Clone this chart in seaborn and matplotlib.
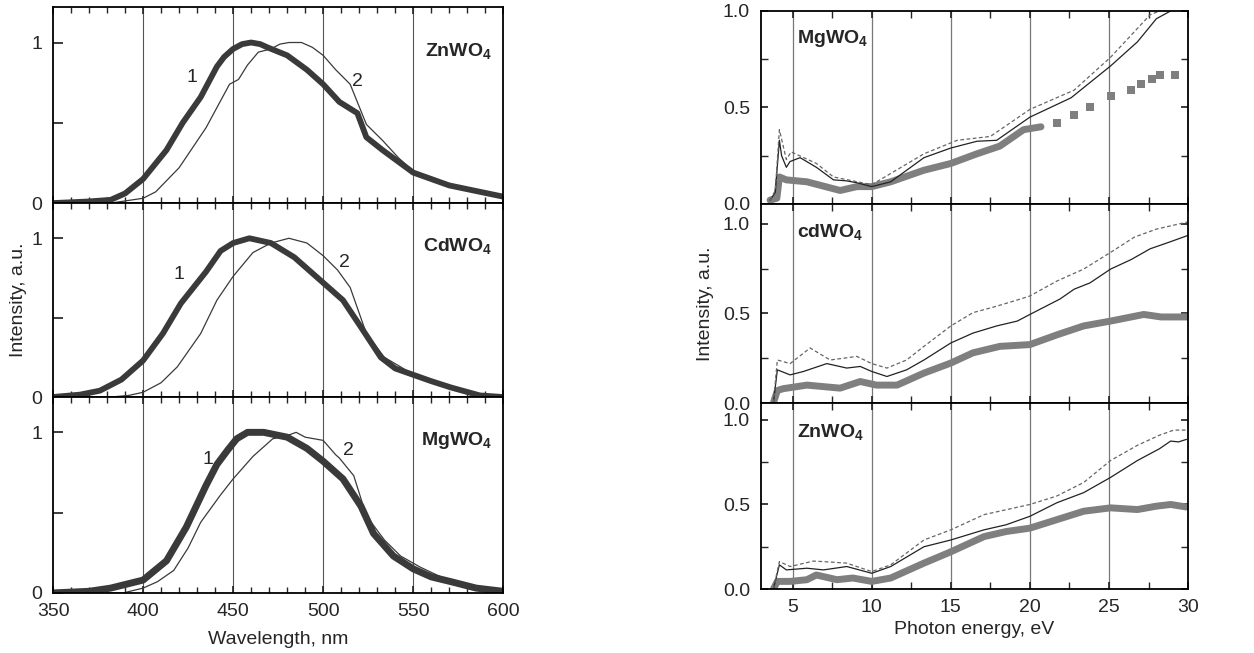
import numpy as np
import pandas as pd
import matplotlib
matplotlib.use("Agg")
import matplotlib.pyplot as plt
import seaborn as sns
from matplotlib.ticker import MultipleLocator

# ---------- left: emission spectra (wavelength, nm) ----------
zn_wl1 = [350, 370, 382, 390, 400, 413, 422, 432, 441, 445, 450, 455, 460, 465, 469, 480, 491, 500, 509, 519, 524, 533, 550, 570, 600]
zn_i1 = [0.0, 0.01, 0.02, 0.06, 0.15, 0.33, 0.50, 0.66, 0.85, 0.91, 0.96, 0.99, 1.0, 0.99, 0.97, 0.92, 0.83, 0.74, 0.63, 0.56, 0.41, 0.33, 0.19, 0.11, 0.04]
zn_wl2 = [350, 382, 400, 407, 420, 435, 448, 453, 458, 464, 471, 476, 481, 488, 494, 500, 507, 515, 524, 533, 542, 550, 570, 600]
zn_i2 = [0.0, 0.0, 0.03, 0.07, 0.22, 0.47, 0.74, 0.77, 0.86, 0.94, 0.96, 0.99, 1.0, 1.0, 0.97, 0.92, 0.83, 0.74, 0.49, 0.39, 0.28, 0.20, 0.11, 0.04]

cd_wl1 = [350, 365, 376, 388, 400, 411, 421, 428, 435, 443, 450, 459, 471, 484, 500, 511, 521, 532, 540, 550, 560, 571, 587, 600]
cd_i1 = [0.0, 0.015, 0.04, 0.11, 0.23, 0.40, 0.59, 0.69, 0.79, 0.92, 0.97, 1.0, 0.97, 0.88, 0.72, 0.61, 0.44, 0.25, 0.18, 0.14, 0.10, 0.06, 0.01, 0.0]
cd_wl2 = [350, 382, 392, 400, 410, 419, 432, 441, 450, 461, 471, 481, 491, 500, 508, 515, 524, 534, 543, 550, 560, 571, 587, 600]
cd_i2 = [0.0, 0.0, 0.01, 0.03, 0.09, 0.19, 0.40, 0.61, 0.76, 0.91, 0.97, 1.0, 0.97, 0.89, 0.80, 0.69, 0.40, 0.25, 0.19, 0.14, 0.10, 0.06, 0.01, 0.0]

mg_wl1 = [350, 370, 382, 400, 413, 424, 435, 441, 447, 452, 458, 467, 480, 491, 500, 511, 521, 528, 539, 550, 560, 571, 585, 600]
mg_i1 = [0.0, 0.01, 0.03, 0.08, 0.20, 0.41, 0.67, 0.80, 0.89, 0.96, 1.0, 1.0, 0.97, 0.90, 0.82, 0.71, 0.54, 0.37, 0.23, 0.15, 0.10, 0.07, 0.03, 0.01]
mg_wl2 = [350, 389, 400, 408, 417, 425, 432, 443, 450, 461, 472, 480, 485, 490, 495, 500, 507, 509, 517, 524, 534, 543, 554, 571, 600]
mg_i2 = [0.0, 0.0, 0.03, 0.07, 0.14, 0.28, 0.44, 0.61, 0.71, 0.85, 0.96, 0.98, 1.0, 0.97, 0.96, 0.95, 0.86, 0.84, 0.73, 0.48, 0.33, 0.23, 0.16, 0.07, 0.01]

# ---------- right: excitation spectra (photon energy, eV) ----------
mgE_solid = [3.57, 3.9, 4.16, 4.3, 4.6, 4.83, 5.47, 6.5, 7.58, 8.4, 9.06, 10.0, 11.2, 13.3, 15.0, 16.65, 17.9, 20.0, 22.6, 25.1, 26.8, 28.0, 28.9, 29.5]
mgI_solid = [0.02, 0.06, 0.33, 0.25, 0.19, 0.22, 0.24, 0.19, 0.125, 0.12, 0.11, 0.09, 0.115, 0.24, 0.29, 0.325, 0.33, 0.45, 0.55, 0.715, 0.84, 0.96, 1.0, 1.03]
mgE_dash = [3.57, 3.9, 4.16, 4.6, 4.9, 6.5, 7.58, 10.0, 13.3, 15.4, 17.5, 20.0, 22.8, 25.1, 27.6, 28.2, 29.0]
mgI_dash = [0.02, 0.07, 0.385, 0.23, 0.27, 0.21, 0.14, 0.10, 0.26, 0.33, 0.35, 0.49, 0.59, 0.76, 0.98, 1.0, 1.05]
mgE_sq = [3.57, 4.0, 4.16, 4.6, 5.9, 8.0, 9.06, 10.0, 11.2, 13.3, 15.0, 16.65, 18.1, 19.6, 20.7]
mgI_sq = [0.02, 0.03, 0.14, 0.125, 0.115, 0.07, 0.09, 0.09, 0.115, 0.175, 0.21, 0.26, 0.30, 0.385, 0.40]
mgE_tail = [21.7, 22.8, 23.8, 25.1, 26.4, 27.0, 27.7, 28.2, 29.2]
mgI_tail = [0.42, 0.46, 0.505, 0.56, 0.59, 0.62, 0.65, 0.67, 0.67]

cdE_solid = [3.78, 4.03, 4.84, 5.68, 7.16, 8.42, 9.27, 10.0, 10.96, 12.2, 13.3, 15.0, 16.4, 17.9, 19.2, 20.0, 21.9, 22.8, 23.8, 25.1, 26.4, 27.6, 28.9, 30.0]
cdI_solid = [0.0, 0.185, 0.157, 0.176, 0.22, 0.195, 0.204, 0.176, 0.148, 0.185, 0.24, 0.335, 0.39, 0.43, 0.457, 0.494, 0.58, 0.635, 0.67, 0.747, 0.80, 0.86, 0.90, 0.935]
cdE_dash = [3.78, 4.03, 4.84, 6.1, 7.37, 9.06, 10.0, 10.96, 12.2, 13.3, 15.0, 16.4, 17.9, 19.4, 20.0, 21.7, 23.4, 25.1, 26.6, 28.0, 30.0]
cdI_dash = [0.0, 0.24, 0.22, 0.307, 0.24, 0.26, 0.22, 0.195, 0.24, 0.316, 0.43, 0.504, 0.54, 0.58, 0.597, 0.68, 0.747, 0.84, 0.925, 0.97, 1.01]
cdE_sq = [3.78, 4.03, 4.4, 5.9, 8.0, 9.27, 10.3, 11.6, 13.3, 15.0, 16.4, 18.1, 20.0, 21.7, 23.4, 25.1, 27.2, 28.3, 30.0]
cdI_sq = [0.0, 0.07, 0.08, 0.10, 0.083, 0.12, 0.10, 0.10, 0.167, 0.223, 0.28, 0.316, 0.326, 0.38, 0.43, 0.457, 0.494, 0.48, 0.48]

znE_solid = [3.78, 4.16, 4.6, 5.9, 6.95, 8.42, 10.0, 11.2, 13.3, 15.0, 17.1, 18.5, 20.0, 21.7, 23.4, 25.1, 26.8, 28.2, 28.9, 29.4, 29.9]
znI_solid = [0.0, 0.143, 0.113, 0.123, 0.113, 0.133, 0.093, 0.133, 0.25, 0.29, 0.35, 0.38, 0.43, 0.51, 0.57, 0.66, 0.76, 0.83, 0.875, 0.87, 0.885]
znE_dash = [3.78, 4.16, 4.84, 6.3, 6.95, 8.42, 10.0, 11.2, 13.3, 15.0, 17.1, 20.0, 21.7, 23.4, 25.1, 26.8, 28.2, 29.1, 29.9]
znI_dash = [0.0, 0.162, 0.133, 0.165, 0.162, 0.153, 0.103, 0.143, 0.29, 0.35, 0.44, 0.50, 0.55, 0.63, 0.76, 0.85, 0.91, 0.94, 0.94]
znE_sq = [3.78, 4.03, 4.84, 5.9, 6.5, 7.8, 8.8, 10.0, 11.2, 13.3, 15.0, 17.1, 18.5, 20.0, 21.7, 23.4, 25.1, 26.8, 28.0, 28.9, 29.9]
znI_sq = [0.0, 0.045, 0.045, 0.055, 0.083, 0.055, 0.065, 0.045, 0.065, 0.153, 0.22, 0.31, 0.34, 0.36, 0.41, 0.46, 0.48, 0.47, 0.49, 0.50, 0.485]

left_names = [r"$\mathbf{ZnWO_4}$", r"$\mathbf{CdWO_4}$", r"$\mathbf{MgWO_4}$"]
right_names = [r"$\mathbf{MgWO_4}$", r"$\mathbf{cdWO_4}$", r"$\mathbf{ZnWO_4}$"]

sns.set_theme(style="ticks")
plt.rcParams['font.family'] = ['Liberation Sans', 'DejaVu Sans']
plt.rcParams['mathtext.fontset'] = 'custom'
plt.rcParams['mathtext.rm'] = 'Liberation Sans'
plt.rcParams['mathtext.bf'] = 'Liberation Sans:bold'

fs = 14
fig = plt.figure(figsize=(12.54, 6.53), dpi=100)

dark = '#3a3a3a'
gray = '#7f7f7f'

# left column
left_pos = [[0.0423, 0.689, 0.359, 0.300], [0.0423, 0.392, 0.359, 0.2966], [0.0423, 0.092, 0.359, 0.300]]
left_data = [(zn_wl1, zn_i1, zn_wl2, zn_i2), (cd_wl1, cd_i1, cd_wl2, cd_i2), (mg_wl1, mg_i1, mg_wl2, mg_i2)]
lab1 = [(427, 0.78), (420, 0.77), (436, 0.83)]
lab2 = [(519, 0.76), (512, 0.85), (514, 0.89)]
for k in range(3):
    ax = fig.add_axes(left_pos[k])
    w1, i1, w2, i2 = left_data[k]
    for xv in [400, 450, 500, 550]:
        ax.axvline(xv, color='#555555', lw=0.8, zorder=0)
    sns.lineplot(x=w2, y=i2, ax=ax, color=dark, lw=0.9, sort=False)
    sns.lineplot(x=w1, y=i1, ax=ax, color=dark, lw=5.0 if k == 2 else 4.2, sort=False,
                 solid_joinstyle='round')
    ax.set_xlim(350, 600)
    ax.set_ylim(0, 1.22)
    ax.set_yticks([0, 0.5, 1])
    ax.set_yticklabels(['0', '', '1'])
    ax.xaxis.set_major_locator(MultipleLocator(50))
    ax.xaxis.set_minor_locator(MultipleLocator(10))
    ax.tick_params(axis='x', which='both', direction='in', top=True, bottom=True, length=5)
    ax.tick_params(axis='x', which='minor', length=4)
    ax.tick_params(axis='y', direction='in', length=7, labelsize=fs, pad=8)
    ax.tick_params(axis='x', labelsize=fs, pad=7)
    ax.text(lab1[k][0], lab1[k][1], '1', fontsize=fs, ha='center', va='center')
    ax.text(lab2[k][0], lab2[k][1], '2', fontsize=fs, ha='center', va='center')
    ax.text(594, 0.95, left_names[k], fontsize=fs, ha='right', va='center')
    ax.set_ylabel('')
    for s in ax.spines.values():
        s.set_linewidth(1.3)
        s.set_color('black')
    if k < 2:
        ax.set_xticklabels([])
        ax.set_xlabel('')
    else:
        ax.set_xlabel('Wavelength, nm', fontsize=fs, labelpad=8)
    if k == 1:
        ax.set_ylabel('Intensity, a.u.', fontsize=fs, labelpad=3)

# right column
right_pos = [[0.6069, 0.6876, 0.3405, 0.2956], [0.6069, 0.3828, 0.3405, 0.3048], [0.6069, 0.098, 0.3405, 0.2848]]
right_ylim = [1.0, 1.11, 1.1]
right_data = [(mgE_solid, mgI_solid, mgE_dash, mgI_dash, mgE_sq, mgI_sq),
              (cdE_solid, cdI_solid, cdE_dash, cdI_dash, cdE_sq, cdI_sq),
              (znE_solid, znI_solid, znE_dash, znI_dash, znE_sq, znI_sq)]
name_y = [0.855, 0.955, 0.93]
for k in range(3):
    ax = fig.add_axes(right_pos[k])
    es, is_, ed, id_, eq, iq = right_data[k]
    for xv in [5, 10, 15, 20, 25]:
        ax.axvline(xv, color='#777777', lw=0.9, zorder=0)
    sns.lineplot(x=eq, y=iq, ax=ax, color=gray, lw=5.0, sort=False, solid_joinstyle='round')
    if k == 0:
        sns.scatterplot(x=mgE_tail, y=mgI_tail, ax=ax, color=gray, marker='s', s=32, linewidth=0)
    sns.lineplot(x=es, y=is_, ax=ax, color='#222222', lw=0.9, sort=False)
    ax.plot(ed, id_, color='#666666', lw=0.9, ls=(0, (3, 2)))
    ax.set_xlim(3, 30)
    ax.set_ylim(0, right_ylim[k])
    ax.set_yticks([0, 0.5, 1.0])
    ax.set_yticklabels(['0.0', '0.5', '1.0'])
    ax.yaxis.set_minor_locator(MultipleLocator(0.25))
    ax.xaxis.set_major_locator(MultipleLocator(5))
    ax.xaxis.set_minor_locator(MultipleLocator(2.5))
    ax.tick_params(axis='both', which='both', direction='in', top=True, bottom=True,
                   left=True, right=True, length=5, labelsize=fs)
    ax.tick_params(axis='x', pad=7)
    ax.tick_params(axis='y', pad=8)
    ax.text(5.3, name_y[k], right_names[k], fontsize=fs, ha='left', va='center')
    ax.set_ylabel('')
    for s in ax.spines.values():
        s.set_linewidth(1.3)
        s.set_color('black')
    if k < 2:
        ax.set_xticklabels([])
        ax.set_xlabel('')
    else:
        ax.set_xlabel('Photon energy, eV', fontsize=fs, labelpad=4)
    if k == 1:
        ax.set_ylabel('Intensity, a.u.', fontsize=fs, labelpad=6)

fig.savefig('out.png', dpi=100)
